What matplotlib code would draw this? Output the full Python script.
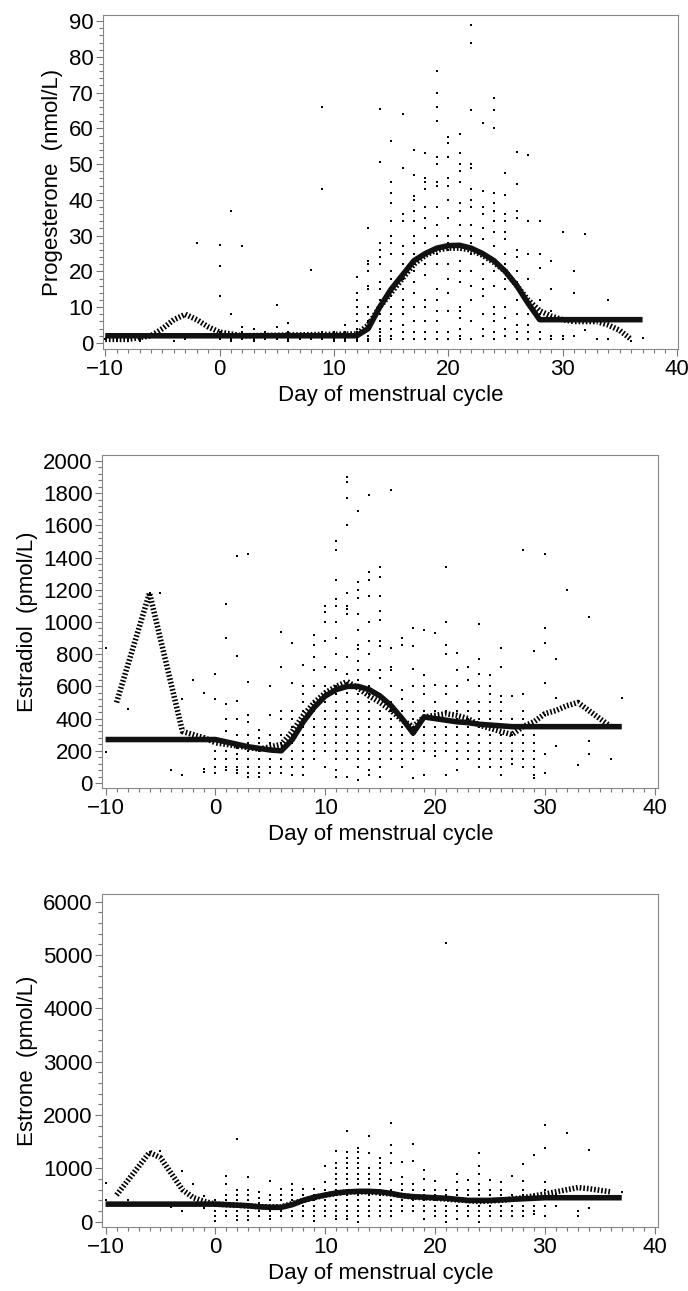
import matplotlib
matplotlib.use("Agg")
import matplotlib.pyplot as plt
from matplotlib.ticker import MultipleLocator

plt.rcParams['font.family'] = ['Liberation Sans Narrow', 'Liberation Sans', 'DejaVu Sans']

# --- Progesterone ---
prog_solid = {-10: 2, 12: 2, 13: 4, 14: 10, 15: 15, 16: 19, 17: 23, 18: 25, 19: 26.5, 20: 27.2,
              21: 27.3, 22: 26.5, 23: 25, 24: 23, 25: 20, 26: 16, 27: 11, 28: 6.5, 37: 6.5}
prog_dot = {-10: 1, -8: 1, -6: 2, -5: 4, -4: 6.5, -3: 8, -2: 6.5, -1: 4.5, 0: 3, 1: 2.5, 2: 2,
            12: 2.5, 13: 5, 14: 10, 15: 14, 16: 18, 17: 22, 18: 24.5, 19: 26, 20: 26.5, 21: 26.5,
            22: 26, 23: 24.5, 24: 22.5, 25: 20, 26: 16, 27: 12, 28: 9, 29: 7.5, 30: 6.5, 31: 6,
            32: 6, 33: 6, 34: 5, 35: 3.5, 36: 1}
prog_pts = {
    -10: [1], -9: [1, 0.5], -8: [1], -7: [1, 0.5], -5: [2], -4: [0.5], -3: [1], -2: [28],
    0: [27.5, 21.5, 13, 3, 1], 1: [37, 8, 2, 1, 0.5], 2: [27, 4.5, 3, 2, 1], 3: [4, 2, 1, 0.5],
    4: [3, 2, 1], 5: [10.5, 4.5, 2, 1], 6: [5.5, 3, 1, 0.5], 7: [2, 1], 8: [20.5, 2, 1],
    9: [66, 43, 3, 2, 1], 10: [3, 2, 1, 0.5], 11: [5, 3, 2, 1, 0.5],
    12: [18.5, 14, 12, 10, 8, 6, 4, 3, 2, 1, 0.5],
    13: [32, 23, 22, 20, 16, 15, 10, 8, 6, 4, 2, 1, 0.5],
    14: [65.5, 50.5, 28, 26, 24, 22, 17, 15, 12, 10, 8, 6, 4, 3, 2, 1, 0.5],
    15: [56.5, 45, 42, 39, 34, 30, 28, 25, 20, 18, 15, 13, 10, 8, 6, 4, 2, 1],
    16: [64, 49, 36, 34, 27, 25, 22, 18, 15, 12, 10, 8, 5, 3, 1],
    17: [54, 47, 41, 40, 37, 34, 30, 28, 25, 22, 20, 17, 14, 10, 6, 3, 1],
    18: [53, 46, 45, 43, 38, 35, 32, 28, 25, 22, 19, 12, 10, 6, 3, 1],
    19: [76, 70, 66, 62, 52, 50, 45, 44, 38, 33, 30, 25, 22, 15, 12, 9, 6, 3, 1],
    20: [57.5, 56, 52, 46, 44, 40, 35, 30, 28, 26, 22, 18, 14, 9, 3, 1],
    21: [58.5, 53, 50, 48, 45, 39, 37, 33, 30, 27, 23, 20, 17, 10, 9, 7, 4, 2, 1],
    22: [89, 84, 65, 50, 49, 43, 40, 38, 33, 30, 28, 25, 20, 16, 12, 6, 1],
    23: [61.5, 42.5, 38, 36, 32, 29, 25, 22, 18, 15, 13, 8, 4, 2],
    24: [68.5, 65, 60, 42, 39, 37, 34, 31, 27, 23, 20, 16, 10, 8, 6, 3, 1],
    25: [47.5, 41.5, 36, 34, 31, 29, 25, 22, 18, 15, 10, 7, 4, 2],
    26: [53.5, 44.5, 37, 35, 26, 24, 20, 17, 15, 12, 8, 5, 3, 1],
    27: [52.5, 34, 25, 18, 12, 8, 5, 3, 1], 28: [34, 25, 21, 12, 8, 6, 3, 1],
    29: [23, 15, 9, 2, 1], 30: [31, 7, 2, 1], 31: [20, 14, 2], 32: [30.5, 3.5], 33: [6, 1],
    34: [12, 1], 36: [0.5], 37: [1.5]}

# --- Estradiol ---
e2_solid = {-10: 270, 0: 270, 1: 255, 2: 240, 3: 225, 4: 215, 5: 205, 6: 200, 7: 270, 8: 380,
            9: 470, 10: 540, 11: 580, 12: 600, 13: 600, 14: 580, 15: 540, 16: 480, 17: 400,
            18: 310, 19: 410, 20: 400, 21: 390, 22: 380, 23: 375, 24: 365, 25: 360, 26: 355,
            27: 350, 37: 350}
e2_dot = {-9: 500, -6: 1180, -3: 320, -1: 280, 0: 250, 2: 230, 4: 210, 6: 240, 7: 320, 8: 420,
          9: 500, 10: 560, 11: 600, 12: 630, 13: 590, 14: 540, 15: 500, 16: 450, 17: 390,
          18: 350, 19: 410, 20: 420, 21: 430, 22: 420, 23: 400, 24: 360, 25: 340, 26: 320,
          27: 300, 28: 350, 29: 380, 30: 430, 31: 450, 32: 480, 33: 500, 34: 450, 35: 400, 36: 350}
e2_pts = {
    -10: [840, 190], -8: [460], -6: [1180], -5: [1180], -4: [80], -3: [50, 520], -2: [640],
    -1: [560, 90, 70], 0: [680, 520, 260, 200, 150, 100, 60],
    1: [1110, 900, 490, 400, 320, 250, 200, 150, 100, 80],
    2: [1410, 790, 510, 400, 300, 220, 180, 150, 100, 80, 60],
    3: [1420, 630, 420, 380, 300, 250, 200, 150, 100, 60, 40],
    4: [330, 280, 250, 200, 150, 100, 60, 40], 5: [600, 420, 300, 250, 200, 150, 100, 60],
    6: [940, 720, 450, 400, 300, 250, 200, 150, 100, 60],
    7: [870, 620, 450, 400, 350, 300, 250, 200, 150, 100, 50],
    8: [730, 600, 550, 500, 450, 400, 350, 300, 250, 200, 150, 100, 50],
    9: [920, 860, 780, 700, 600, 500, 450, 400, 350, 300, 250, 200, 150],
    10: [1100, 1060, 1000, 880, 720, 600, 550, 500, 450, 400, 350, 300, 250, 200, 100],
    11: [1500, 1450, 1260, 1140, 1100, 1000, 900, 800, 700, 600, 550, 500, 450, 400, 350, 300,
         250, 200, 150, 80, 40],
    12: [1900, 1870, 1770, 1600, 1180, 1100, 1080, 1050, 780, 680, 620, 560, 500, 450, 400, 350,
         300, 250, 200, 150, 40],
    13: [1690, 1250, 1200, 1150, 1050, 950, 860, 830, 760, 700, 640, 600, 550, 500, 450, 400,
         350, 300, 250, 200, 150, 100, 20],
    14: [1790, 1310, 1260, 1160, 1000, 880, 800, 700, 600, 550, 500, 450, 400, 350, 300, 250,
         200, 150, 80, 50],
    15: [1340, 1280, 1160, 1070, 1010, 880, 850, 700, 650, 550, 450, 400, 350, 300, 250, 200,
         150, 100, 40],
    16: [1820, 840, 720, 700, 600, 500, 450, 400, 350, 300, 250, 200, 150],
    17: [900, 860, 580, 520, 450, 400, 350, 300, 250, 200, 150, 100],
    18: [960, 850, 710, 600, 500, 450, 400, 350, 300, 250, 200, 150, 30],
    19: [950, 670, 600, 550, 450, 400, 350, 300, 250, 200, 50],
    20: [930, 610, 500, 450, 400, 350, 300, 250, 200, 170],
    21: [1340, 1000, 860, 800, 600, 550, 450, 400, 350, 300, 250, 200, 50],
    22: [810, 700, 600, 500, 450, 400, 350, 300, 250, 200, 150, 80],
    23: [720, 640, 500, 450, 400, 350, 300, 250, 200, 150],
    24: [990, 770, 680, 600, 500, 450, 400, 350, 300, 250, 200, 150, 100],
    25: [670, 600, 550, 500, 450, 400, 350, 300, 250, 200, 150, 100],
    26: [840, 720, 540, 500, 450, 400, 350, 300, 250, 200, 150, 100, 50],
    27: [540, 400, 350, 300, 250, 200, 150, 120],
    28: [1450, 550, 450, 400, 350, 300, 250, 200, 150, 100],
    29: [820, 300, 250, 200, 150, 100, 50, 30], 30: [1420, 960, 870, 620, 420, 180, 60],
    31: [770, 530, 230], 32: [1200], 33: [110], 34: [1030, 260, 180], 36: [150], 37: [530]}

# --- Estrone ---
e1_solid = {-10: 330, 0: 330, 1: 320, 2: 310, 3: 300, 4: 280, 5: 270, 6: 270, 7: 320, 8: 400,
            9: 460, 10: 500, 11: 540, 12: 560, 13: 570, 14: 570, 15: 560, 16: 530, 17: 490,
            18: 470, 19: 460, 20: 450, 21: 440, 22: 420, 23: 400, 24: 400, 25: 400, 26: 410,
            27: 420, 28: 430, 29: 440, 30: 450, 37: 450}
e1_dot = {-9: 500, -6: 1300, -5: 1200, -4: 900, -3: 600, -2: 450, -1: 380, 0: 330, 2: 310,
          4: 280, 6: 280, 8: 400, 10: 500, 12: 560, 14: 560, 16: 520, 18: 460, 20: 440, 22: 410,
          24: 380, 26: 400, 28: 450, 30: 520, 32: 600, 33: 640, 34: 620, 36: 560}
e1_pts = {
    -10: [730, 400], -8: [400], -6: [1300], -5: [1320], -4: [280], -3: [950, 200], -2: [700],
    -1: [480, 250], 0: [400, 300, 200, 100, 20], 1: [850, 700, 500, 400, 300, 200, 100],
    2: [1550, 600, 500, 400, 300, 200, 100, 30], 3: [830, 600, 500, 400, 300, 200, 100, 30],
    4: [550, 450, 350, 300, 250, 200, 100], 5: [770, 500, 400, 300, 200, 100, 50],
    6: [620, 500, 400, 300, 200, 100], 7: [700, 600, 500, 400, 300, 200, 100],
    8: [620, 500, 400, 300, 200, 100], 9: [620, 500, 400, 300, 200, 100, 20],
    10: [1050, 750, 600, 500, 400, 300, 200, 100],
    11: [1330, 1100, 1000, 900, 800, 700, 600, 500, 400, 300, 200, 100, 50],
    12: [1700, 1300, 1200, 1100, 1000, 900, 800, 700, 600, 500, 400, 300, 200, 100, 50],
    13: [1380, 1300, 1200, 1100, 1000, 900, 800, 700, 600, 500, 400, 300, 200, 100, 0],
    14: [1610, 1290, 1000, 900, 800, 700, 600, 500, 400, 300, 200, 100],
    15: [1200, 1100, 1000, 900, 800, 700, 600, 500, 400, 300, 200, 100],
    16: [1850, 1430, 1290, 1100, 780, 600, 500, 400, 300, 200, 100],
    17: [1120, 830, 700, 600, 500, 400, 300, 200], 18: [1450, 1130, 700, 600, 500, 400, 300, 200],
    19: [970, 800, 600, 500, 400, 300, 200, 50], 20: [760, 600, 500, 400, 300, 200, 100],
    21: [5220, 600, 500, 400, 300, 200, 100, 0], 22: [900, 750, 600, 500, 400, 300, 200, 50],
    23: [790, 600, 500, 400, 300, 200, 100],
    24: [1290, 1050, 900, 700, 600, 500, 400, 300, 200, 100, 0],
    25: [780, 600, 500, 400, 300, 200, 100], 26: [740, 600, 500, 400, 300, 200, 100],
    27: [850, 500, 400, 300, 200, 100], 28: [1090, 760, 600, 500, 400, 300, 200, 100],
    29: [1250, 500, 400, 300, 200, 150], 30: [1820, 1380, 740, 600, 300, 100], 31: [520, 300],
    32: [1660], 33: [100, 200], 34: [1340, 250], 37: [560]}

x_ticks = [-10, 0, 10, 20, 30, 40]
x_labels = ['\u221210', '0', '10', '20', '30', '40']

W, H = 688, 1291
fig = plt.figure(figsize=(W / 100, H / 100), dpi=100)


def panel(box, pts, solid, dot, ylim, ymajor, yminor, ylabel, xlim):
    l, t, r, b = box
    ax = fig.add_axes((l / W, 1 - b / H, (r - l) / W, (b - t) / H))
    xs = [d for d, vals in pts.items() for v in vals]
    ys = [v for d, vals in pts.items() for v in vals]
    ax.scatter(xs, ys, s=4, marker='s', color='black', linewidths=0)
    ax.plot(list(dot.keys()), list(dot.values()), color='black', lw=4,
            linestyle=(0, (0.3, 0.35)))
    ax.plot(list(solid.keys()), list(solid.values()), color='#111111', lw=4,
            solid_capstyle='butt')
    ax.set_xlim(*xlim)
    ax.set_ylim(*ylim)
    ax.xaxis.set_minor_locator(MultipleLocator(1))
    ax.yaxis.set_major_locator(MultipleLocator(ymajor))
    ax.yaxis.set_minor_locator(MultipleLocator(yminor))
    ax.set_xticks(x_ticks)
    ax.set_xticklabels(x_labels)
    ax.tick_params(which='both', color='#777777', width=0.8, labelsize=16, pad=2)
    ax.tick_params(which='major', length=5)
    ax.tick_params(which='minor', length=3)
    for s in ax.spines.values():
        s.set_color('#888888')
        s.set_linewidth(0.8)
    ax.set_ylabel(ylabel, fontsize=16, labelpad=4)
    ax.set_xlabel('Day of menstrual cycle', fontsize=16, labelpad=4)
    return ax


panel((103, 15, 678, 349), prog_pts, prog_solid, prog_dot, (-1.7, 91.7), 10, 2,
      'Progesterone  (nmol/L)', (-10.2, 40.1))
panel((102.5, 455, 658, 788), e2_pts, e2_solid, e2_dot, (-31, 2037), 200, 40,
      'Estradiol  (pmol/L)', (-10.28, 40.3))
panel((102.5, 894, 658, 1227), e1_pts, e1_solid, e1_dot, (-99, 6146), 1000, 200,
      'Estrone  (pmol/L)', (-10.28, 40.3))

fig.savefig('out.png', dpi=100)
